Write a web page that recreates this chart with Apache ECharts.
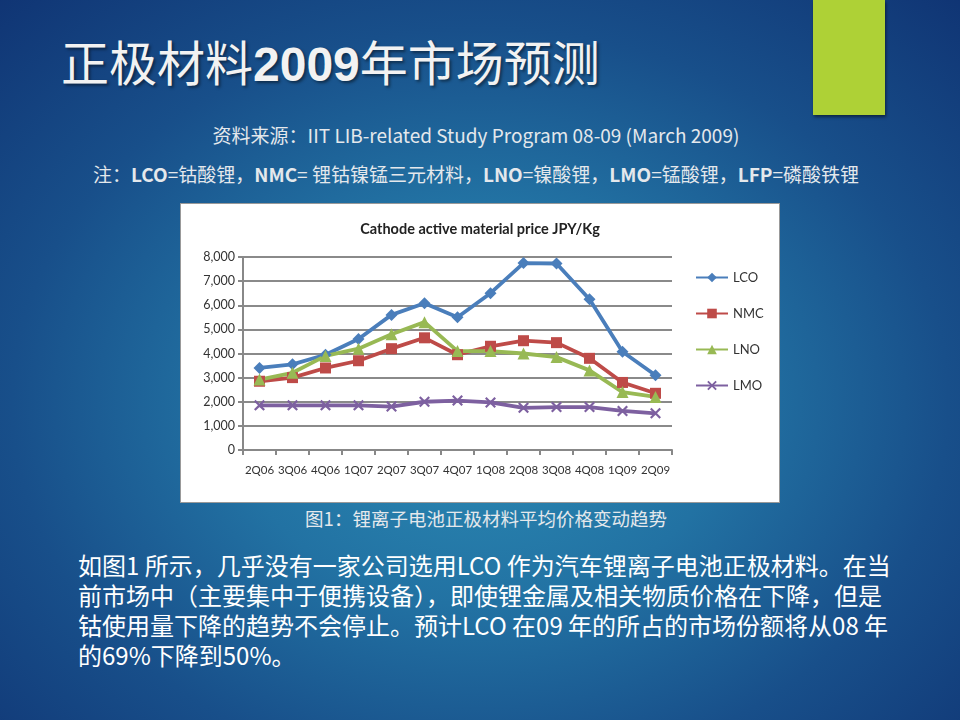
<!DOCTYPE html>
<html>
<head>
<meta charset="utf-8">
<script src="https://cdn.jsdelivr.net/npm/echarts@6/dist/echarts.min.js"></script>
<style>
  html, body { margin: 0; padding: 0; }
  body {
    width: 960px; height: 720px; position: relative; overflow: hidden;
    background: radial-gradient(ellipse 75% 80% at 50% 56%, #2c8cb5 0%, #2272a3 35%, #184f8a 65%, #0f3272 100%);
    font-family: "Noto Sans CJK SC", "Noto Sans", sans-serif;
  }
  .bar { position: absolute; left: 813px; top: 0; width: 72px; height: 115px; background: #aed136; box-shadow: 1px 2px 3px rgba(0,0,0,0.5); }
  .title { position: absolute; left: 61px; top: 29px; font-size: 48px; color: #f2f2f2; white-space: nowrap; text-shadow: 2px 2px 3px rgba(0,0,0,0.45); line-height: 62px; }
  .title b { font-family: "Liberation Sans", sans-serif; font-weight: bold; }
  .center { position: absolute; left: 0; width: 960px; text-align: center; white-space: nowrap; color: #e4e8ec; }
  .src { top: 121px; font-size: 19px; left: -4px; }
  .note { top: 160px; font-size: 19px; left: -4px; }
  .note b { font-weight: bold; }
  .cap { top: 505px; font-size: 18.5px; left: 6px; }
  #chart { position: absolute; left: 180px; top: 203px; width: 598px; height: 298px; background: #fff; border: 1px solid #999; }
  .para { position: absolute; left: 78px; top: 550px; font-size: 24px; line-height: 30px; color: #fff; white-space: nowrap; }
</style>
</head>
<body>
<div class="bar"></div>
<div class="title">正极材料<b>2009</b>年市场预测</div>
<div class="center src">资料来源：IIT LIB-related Study Program 08-09 (March 2009)</div>
<div class="center note">注：<b>LCO</b>=钴酸锂，<b>NMC</b>= 锂钴镍锰三元材料，<b>LNO</b>=镍酸锂，<b>LMO</b>=锰酸锂，<b>LFP</b>=磷酸铁锂</div>
<div id="chart"></div>
<div class="center cap">图1：锂离子电池正极材料平均价格变动趋势</div>
<div class="para">如图1 所示，几乎没有一家公司选用LCO 作为汽车锂离子电池正极材料。在当<br>前市场中（主要集中于便携设备），即使锂金属及相关物质价格在下降，但是<br>钴使用量下降的趋势不会停止。预计LCO 在09 年的所占的市场份额将从08 年<br>的69%下降到50%。</div>
<script>
// quarters and price per material (JPY/Kg)
const quarters = ["2Q06", "3Q06", "4Q06", "1Q07", "2Q07", "3Q07", "4Q07", "1Q08", "2Q08", "3Q08", "4Q08", "1Q09", "2Q09"];
const lco = [3400, 3550, 3950, 4600, 5600, 6080, 5500, 6500, 7750, 7730, 6250, 4070, 3100];
const nmc = [2850, 3000, 3400, 3700, 4200, 4650, 3950, 4300, 4530, 4450, 3800, 2800, 2350];
const lno = [2920, 3200, 3900, 4200, 4800, 5300, 4100, 4100, 4000, 3850, 3300, 2400, 2200];
const lmo = [1850, 1850, 1850, 1850, 1800, 2000, 2050, 1970, 1750, 1780, 1780, 1620, 1520];
const yTicks = [0, 1000, 2000, 3000, 4000, 5000, 6000, 7000, 8000];

const crossPath = "path://M0,1.4L1.4,0L5,3.6L8.6,0L10,1.4L6.4,5L10,8.6L8.6,10L5,6.4L1.4,10L0,8.6L3.6,5Z";

function line(name, data, color, symbol, size) {
  return {
    name: name, type: "line", data: data,
    symbol: symbol, symbolSize: size,
    lineStyle: { color: color, width: 3.8 },
    itemStyle: { color: color },
    animation: false
  };
}

const chart = echarts.init(document.getElementById("chart"));
chart.setOption({
  textStyle: { fontFamily: "Lato, sans-serif" },
  title: {
    text: "Cathode active material price JPY/Kg",
    left: "center", top: 13,
    textStyle: { fontSize: 14.5, fontWeight: "bold", color: "#222" }
  },
  legend: {
    orient: "vertical", left: 509, top: 62,
    itemWidth: 32, itemHeight: 12, itemGap: 23,
    textStyle: { fontSize: 13, color: "#333" },
    data: ["LCO", "NMC", "LNO", "LMO"]
  },
  grid: { left: 62, right: 107, top: 53, bottom: 52 },
  xAxis: {
    type: "category", data: quarters,
    axisLine: { lineStyle: { color: "#888", width: 2 } },
    axisTick: { show: true, length: 5, lineStyle: { color: "#888", width: 2 } },
    axisLabel: { fontSize: 11.5, color: "#333", margin: 14, interval: 0 }
  },
  yAxis: {
    type: "value", min: 0, max: 8000, interval: 1000,
    axisLine: { show: true, lineStyle: { color: "#888", width: 2 } },
    axisTick: { show: true, length: 5, lineStyle: { color: "#888", width: 2 } },
    axisLabel: {
      fontSize: 12.5, color: "#333", margin: 8,
      formatter: v => yTicks.includes(v) ? v.toLocaleString("en-US") : ""
    },
    splitLine: { lineStyle: { color: "#8a8a8a", width: 2 } }
  },
  series: [
    line("LCO", lco, "#4a7ebb", "diamond", 12),
    line("NMC", nmc, "#be4b48", "rect", 11),
    line("LNO", lno, "#98b954", "triangle", 12),
    line("LMO", lmo, "#7d60a0", crossPath, 11)
  ]
});
</script>
</body>
</html>
